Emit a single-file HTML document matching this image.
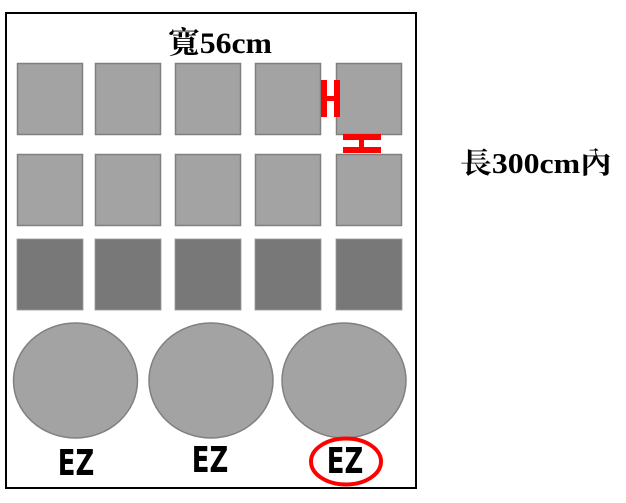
<!DOCTYPE html>
<html><head><meta charset="utf-8"><style>
body{margin:0;background:#fff;width:626px;height:498px;overflow:hidden}
</style></head><body>
<svg width="626" height="498" xmlns="http://www.w3.org/2000/svg">
<rect x="6" y="13" width="410" height="475" fill="#fff" stroke="#000" stroke-width="2"/>
<text x="220" y="53" text-anchor="middle" font-family="Liberation Serif, Noto Serif CJK TC, serif" font-size="30" font-weight="bold" textLength="104" lengthAdjust="spacingAndGlyphs">寬56cm</text>
<text x="536" y="173" text-anchor="middle" font-family="Liberation Serif, Noto Serif CJK TC, serif" font-size="29" font-weight="bold" textLength="152" lengthAdjust="spacingAndGlyphs">長300cm內</text>
<g fill="#a3a3a3" stroke="#808080" stroke-width="1.5">
<rect x="17.5" y="63.5" width="65" height="71"/><rect x="95.5" y="63.5" width="65" height="71"/><rect x="175.5" y="63.5" width="65" height="71"/><rect x="255.5" y="63.5" width="65" height="71"/><rect x="336.5" y="63.5" width="65" height="71"/>
<rect x="17.5" y="154.5" width="65" height="71"/><rect x="95.5" y="154.5" width="65" height="71"/><rect x="175.5" y="154.5" width="65" height="71"/><rect x="255.5" y="154.5" width="65" height="71"/><rect x="336.5" y="154.5" width="65" height="71"/>
</g>
<g fill="#787878" stroke="#999" stroke-width="0.8">
<rect x="17" y="239" width="66" height="71"/><rect x="95" y="239" width="66" height="71"/><rect x="175" y="239" width="66" height="71"/><rect x="255" y="239" width="66" height="71"/><rect x="336" y="239" width="66" height="71"/>
</g>
<g fill="#a3a3a3" stroke="#808080" stroke-width="1.5">
<ellipse cx="75.5" cy="380.5" rx="62" ry="57.5"/>
<ellipse cx="211" cy="380.5" rx="62" ry="57.5"/>
<ellipse cx="344" cy="380.5" rx="62" ry="57.5"/>
</g>
<g fill="#ff0000">
<rect x="321" y="80" width="6" height="37"/><rect x="334" y="80" width="6" height="37"/><rect x="321" y="96" width="19" height="5"/>
<rect x="343" y="134" width="38" height="6"/><rect x="343" y="147" width="38" height="6"/><rect x="359" y="134" width="5" height="19"/>
</g>
<g font-family="DejaVu Sans Condensed, Liberation Sans, sans-serif" font-weight="bold" font-size="36" text-anchor="middle" fill="#000">
<text transform="translate(76,475) scale(0.8,1)">EZ</text>
<text transform="translate(210,472) scale(0.8,1)">EZ</text>
<text transform="translate(345,473) scale(0.8,1)">EZ</text>
</g>
<ellipse cx="346" cy="461.5" rx="35" ry="23" fill="none" stroke="#f00" stroke-width="4"/>
</svg>
</body></html>
